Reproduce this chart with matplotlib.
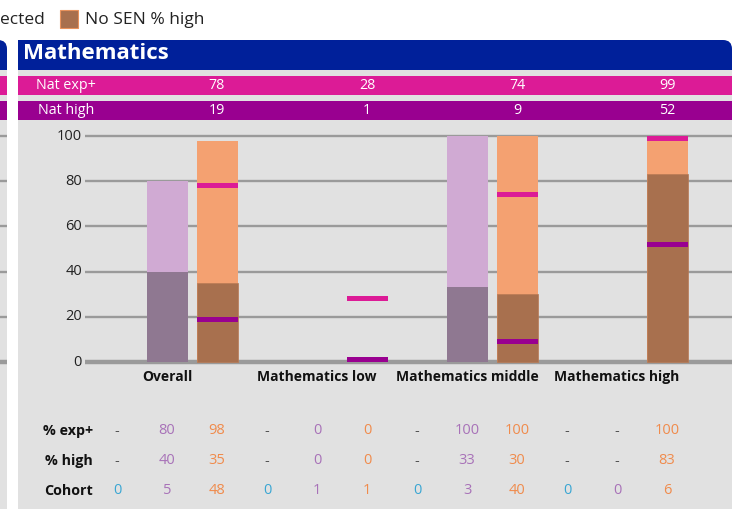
import matplotlib
matplotlib.use("Agg")
import matplotlib.pyplot as plt
from matplotlib.patches import Rectangle, FancyBboxPatch
from matplotlib.transforms import blended_transform_factory

plt.rcParams['font.family'] = ['Open Sans', 'DejaVu Sans']

# data
categories = ["Overall", "Mathematics low", "Mathematics middle", "Mathematics high"]
nat_exp = [78, 28, 74, 99]
nat_high = [19, 1, 9, 52]

sen_exp = [None, None, None, None]
sen_high = [None, None, None, None]
sen_cohort = [0, 0, 0, 0]

sel_exp = [80, 0, 100, None]
sel_high = [40, 0, 33, None]
sel_cohort = [5, 1, 3, 0]

nosen_exp = [98, 0, 100, 100]
nosen_high = [35, 0, 30, 83]
nosen_cohort = [48, 1, 40, 6]

yticks = [0, 20, 40, 60, 80, 100]

# colours
blue = "#00209a"
pink = "#dc1b96"
purple = "#990090"
panel = "#e1e1e1"
grid = "#9a9a9a"
purple_light = "#d0aad3"
purple_dark = "#8f7891"
orange_light = "#f4a171"
brown = "#a8704e"
col_sen = "#3aa6d3"
col_sel = "#a872b8"
col_nosen = "#f08b4c"
col_dash = "#555555"

W, H = 735, 509
fig = plt.figure(figsize=(W / 100, H / 100), dpi=100)

# background axes in pixel coordinates
bg = fig.add_axes([0, 0, 1, 1])
bg.set_xlim(0, W)
bg.set_ylim(H, 0)
bg.axis("off")

# left neighbour panel (cut off)
bg.add_patch(FancyBboxPatch((-40, 40), 47, 45, boxstyle="round,pad=0,rounding_size=9",
                            fc=blue, ec="none", zorder=1))
bg.add_patch(Rectangle((-40, 70), 47, H, fc=panel, ec="none", zorder=2))
bg.add_patch(Rectangle((-40, 76), 47, 19, fc=pink, ec="none", zorder=3))
bg.add_patch(Rectangle((-40, 101), 47, 19, fc=purple, ec="none", zorder=3))

# main panel
bg.add_patch(FancyBboxPatch((18, 40), 714, 45, boxstyle="round,pad=0,rounding_size=9",
                            fc=blue, ec="none", zorder=1))
bg.add_patch(Rectangle((18, 40), 300, 45, fc=blue, ec="none", zorder=1))
bg.add_patch(Rectangle((18, 70), 714, H, fc=panel, ec="none", zorder=2))
bg.add_patch(Rectangle((18, 76), 714, 19, fc=pink, ec="none", zorder=3))
bg.add_patch(Rectangle((18, 101), 714, 19, fc=purple, ec="none", zorder=3))
bg.text(23, 53, "Mathematics", color="white", fontsize=16, fontweight="bold",
        va="center", ha="left", zorder=4)
bg.text(66, 85.5, "Nat exp+", color="white", fontsize=10.3, ha="center", va="center", zorder=4)
bg.text(66, 110.5, "Nat high", color="white", fontsize=10.3, ha="center", va="center", zorder=4)

# legend (left entry is cut off in the source)
bg.text(0, 20, "ected", fontsize=12.5, color="#222222", ha="left", va="center")
bg.add_patch(Rectangle((60, 10), 18, 18, fc=brown, ec="#e8925c", lw=0.8))
bg.text(85, 20, "No SEN % high", fontsize=12.5, color="#222222", ha="left", va="center")

# chart axes: slot units horizontally, percentage vertically
ax = fig.add_axes([0, 0, 1, 1])
ax.patch.set_alpha(0)
ax.set_xlim((0 - 117) / 50, (W - 117) / 50)
ax.set_ylim(-(H - 362) / 2.26, 362 / 2.26)
ax.axis("off")
trans = blended_transform_factory(ax.transData, bg.transData)

x_left, x_right = (85 - 117) / 50, (732 - 117) / 50
ax.hlines(yticks[1:], x_left, x_right, color=grid, lw=1.7, zorder=1)
ax.hlines([0], x_left, x_right, color=grid, lw=3.2, zorder=1)
ax.hlines(yticks[1:], -3, (7 - 117) / 50, color=grid, lw=1.7, zorder=1)
ax.hlines([0], -3, (7 - 117) / 50, color=grid, lw=3.2, zorder=1)
for v in yticks:
    ax.text((82 - 117) / 50, v, str(v), ha="right", va="center", fontsize=10.5, color="#222222")

bw = 0.82
mk = 2.2
for g, cat in enumerate(categories):
    xs, xp, xo = 3 * g, 3 * g + 1, 3 * g + 2
    if sel_exp[g]:
        ax.bar(xp, sel_exp[g], width=bw, color=purple_light, zorder=2)
    if sel_high[g]:
        ax.bar(xp, sel_high[g], width=bw, color=purple_dark, zorder=3)
    if nosen_exp[g]:
        ax.bar(xo, nosen_exp[g], width=bw, color=orange_light, zorder=2)
    if nosen_high[g]:
        ax.bar(xo, nosen_high[g], width=bw, color=brown, edgecolor="#b97a54", lw=0.5, zorder=3)
    ax.bar(xo, mk, bottom=nat_exp[g] - mk / 2, width=bw, color=pink, zorder=4)
    ax.bar(xo, mk, bottom=nat_high[g] - mk / 2, width=bw, color=purple, zorder=4)

    ax.text(xp, 377, cat, transform=trans, ha="center", va="center", fontsize=10,
            fontweight="bold", color="#111111")
    ax.text(xo, 85.5, str(nat_exp[g]), transform=trans, ha="center", va="center",
            fontsize=10.3, color="white", zorder=5)
    ax.text(xo, 110.5, str(nat_high[g]), transform=trans, ha="center", va="center",
            fontsize=10.3, color="white", zorder=5)

    cols = [(xs, sen_exp, sen_high, sen_cohort, col_sen),
            (xp, sel_exp, sel_high, sel_cohort, col_sel),
            (xo, nosen_exp, nosen_high, nosen_cohort, col_nosen)]
    for x, e, h, c, col in cols:
        for y, val in [(431, e[g]), (461, h[g])]:
            if val is None:
                ax.text(x, y, "-", transform=trans, ha="center", va="center",
                        fontsize=10.5, color=col_dash)
            else:
                ax.text(x, y, str(val), transform=trans, ha="center", va="center",
                        fontsize=10.5, color=col)
        ax.text(x, 491, str(c[g]), transform=trans, ha="center", va="center",
                fontsize=10.5, color=col)

for y, lab in [(431, "% exp+"), (461, "% high"), (491, "Cohort")]:
    bg.text(93, y, lab, ha="right", va="center", fontsize=10.3, fontweight="bold",
            color="#111111", zorder=5)

fig.savefig("out.png", dpi=100)
